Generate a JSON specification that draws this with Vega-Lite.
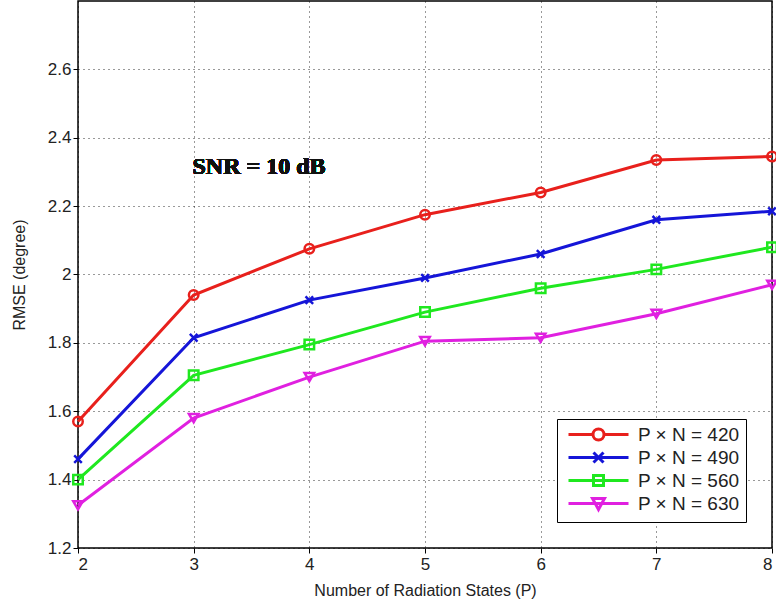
{
  "$schema": "https://vega.github.io/schema/vega-lite/v6.json",
  "width": 694,
  "height": 547,
  "autosize": {"type": "none"},
  "padding": {"left": 78, "top": 1, "right": 4, "bottom": 61},
  "background": "white",
  "config": {
    "view": {"stroke": "black", "strokeWidth": 1.5},
    "font": "Liberation Sans",
    "axis": {
      "labelFont": "Liberation Sans",
      "titleFont": "Liberation Sans",
      "labelFontSize": 17,
      "titleFontSize": 16,
      "labelColor": "#222",
      "titleColor": "#222",
      "titleFontWeight": "normal",
      "domain": false,
      "grid": true,
      "gridColor": "black",
      "gridDash": [1, 4],
      "gridWidth": 1,
      "gridOpacity": 0.8,
      "tickColor": "black",
      "tickSize": 5
    }
  },
  "data": {
    "values": [
      {"P": 2, "RMSE": 1.57, "series": "P × N = 420"},
      {"P": 3, "RMSE": 1.94, "series": "P × N = 420"},
      {"P": 4, "RMSE": 2.075, "series": "P × N = 420"},
      {"P": 5, "RMSE": 2.175, "series": "P × N = 420"},
      {"P": 6, "RMSE": 2.24, "series": "P × N = 420"},
      {"P": 7, "RMSE": 2.335, "series": "P × N = 420"},
      {"P": 8, "RMSE": 2.345, "series": "P × N = 420"},
      {"P": 2, "RMSE": 1.46, "series": "P × N = 490"},
      {"P": 3, "RMSE": 1.815, "series": "P × N = 490"},
      {"P": 4, "RMSE": 1.925, "series": "P × N = 490"},
      {"P": 5, "RMSE": 1.99, "series": "P × N = 490"},
      {"P": 6, "RMSE": 2.06, "series": "P × N = 490"},
      {"P": 7, "RMSE": 2.16, "series": "P × N = 490"},
      {"P": 8, "RMSE": 2.185, "series": "P × N = 490"},
      {"P": 2, "RMSE": 1.40, "series": "P × N = 560"},
      {"P": 3, "RMSE": 1.705, "series": "P × N = 560"},
      {"P": 4, "RMSE": 1.795, "series": "P × N = 560"},
      {"P": 5, "RMSE": 1.89, "series": "P × N = 560"},
      {"P": 6, "RMSE": 1.96, "series": "P × N = 560"},
      {"P": 7, "RMSE": 2.015, "series": "P × N = 560"},
      {"P": 8, "RMSE": 2.08, "series": "P × N = 560"},
      {"P": 2, "RMSE": 1.325, "series": "P × N = 630"},
      {"P": 3, "RMSE": 1.58, "series": "P × N = 630"},
      {"P": 4, "RMSE": 1.70, "series": "P × N = 630"},
      {"P": 5, "RMSE": 1.805, "series": "P × N = 630"},
      {"P": 6, "RMSE": 1.815, "series": "P × N = 630"},
      {"P": 7, "RMSE": 1.885, "series": "P × N = 630"},
      {"P": 8, "RMSE": 1.97, "series": "P × N = 630"}
    ]
  },
  "encoding": {
    "x": {
      "field": "P", "type": "quantitative",
      "scale": {"domain": [2, 8], "nice": false},
      "axis": {"values": [2, 3, 4, 5, 6, 7, 8], "title": "Number of Radiation States (P)", "titlePadding": 10, "labelPadding": 3}
    },
    "y": {
      "field": "RMSE", "type": "quantitative",
      "scale": {"domain": [1.2, 2.8], "nice": false, "zero": false},
      "axis": {"values": [1.2, 1.4, 1.6, 1.8, 2.0, 2.2, 2.4, 2.6], "format": "~g", "title": "RMSE (degree)", "titlePadding": 20}
    },
    "color": {
      "field": "series", "type": "nominal",
      "scale": {
        "domain": ["P × N = 420", "P × N = 490", "P × N = 560", "P × N = 630"],
        "range": ["#e8201c", "#1515d8", "#1fe81f", "#e020e0"]
      },
      "legend": {
        "title": null,
        "orient": "none",
        "legendX": 479,
        "legendY": 418,
        "fillColor": "white",
        "strokeColor": "black",
        "padding": 6,
        "labelFont": "Liberation Sans",
        "labelFontSize": 19,
        "labelColor": "#222",
        "symbolSize": 100,
        "symbolStrokeWidth": 3,
        "symbolOpacity": 1,
        "symbolOffset": 26,
        "labelOffset": 30,
        "rowPadding": 0
      }
    }
  },
  "layer": [
    {
      "mark": {"type": "line", "strokeWidth": 3}
    },
    {
      "transform": [{"filter": "datum.series === 'P × N = 420'"}],
      "mark": {"type": "point", "filled": false, "strokeWidth": 2.5, "size": 90, "opacity": 1, "shape": "circle"}
    },
    {
      "transform": [{"filter": "datum.series === 'P × N = 490'"}],
      "mark": {"type": "point", "filled": false, "strokeWidth": 2.5, "size": 90, "opacity": 1, "shape": "M-0.8,-0.8L0.8,0.8M-0.8,0.8L0.8,-0.8"}
    },
    {
      "transform": [{"filter": "datum.series === 'P × N = 560'"}],
      "mark": {"type": "point", "filled": false, "strokeWidth": 2.5, "size": 90, "opacity": 1, "shape": "square"}
    },
    {
      "transform": [{"filter": "datum.series === 'P × N = 630'"}],
      "mark": {"type": "point", "filled": false, "strokeWidth": 2.5, "size": 90, "opacity": 1, "shape": "triangle-down"}
    },
    {
      "mark": {"type": "point", "filled": false, "strokeWidth": 3, "size": 100, "opacity": 0},
      "encoding": {
        "shape": {
          "field": "series", "type": "nominal",
          "scale": {
            "domain": ["P × N = 420", "P × N = 490", "P × N = 560", "P × N = 630"],
            "range": [
              "M-6,0L-1.1,0M1.1,0L6,0M-1.1,0A1.1,1.1 0 1,0 1.1,0A1.1,1.1 0 1,0 -1.1,0",
              "M-6,0L6,0M-1,-1L1,1M-1,1L1,-1",
              "M-6,0L6,0M-1,-1L1,-1L1,1L-1,1Z",
              "M-6,0L6,0M-1.2,-1L1.2,-1L0,1.2Z"
            ]
          }
        }
      }
    },
    {
      "mark": {"type": "text", "font": "Liberation Serif", "fontWeight": "bold", "fontSize": 24, "align": "left", "baseline": "middle"},
      "encoding": {
        "x": {"datum": 2.99},
        "y": {"datum": 2.315},
        "text": {"value": "SNR = 10 dB"},
        "color": {"value": "#111"}
      }
    }
  ]
}
